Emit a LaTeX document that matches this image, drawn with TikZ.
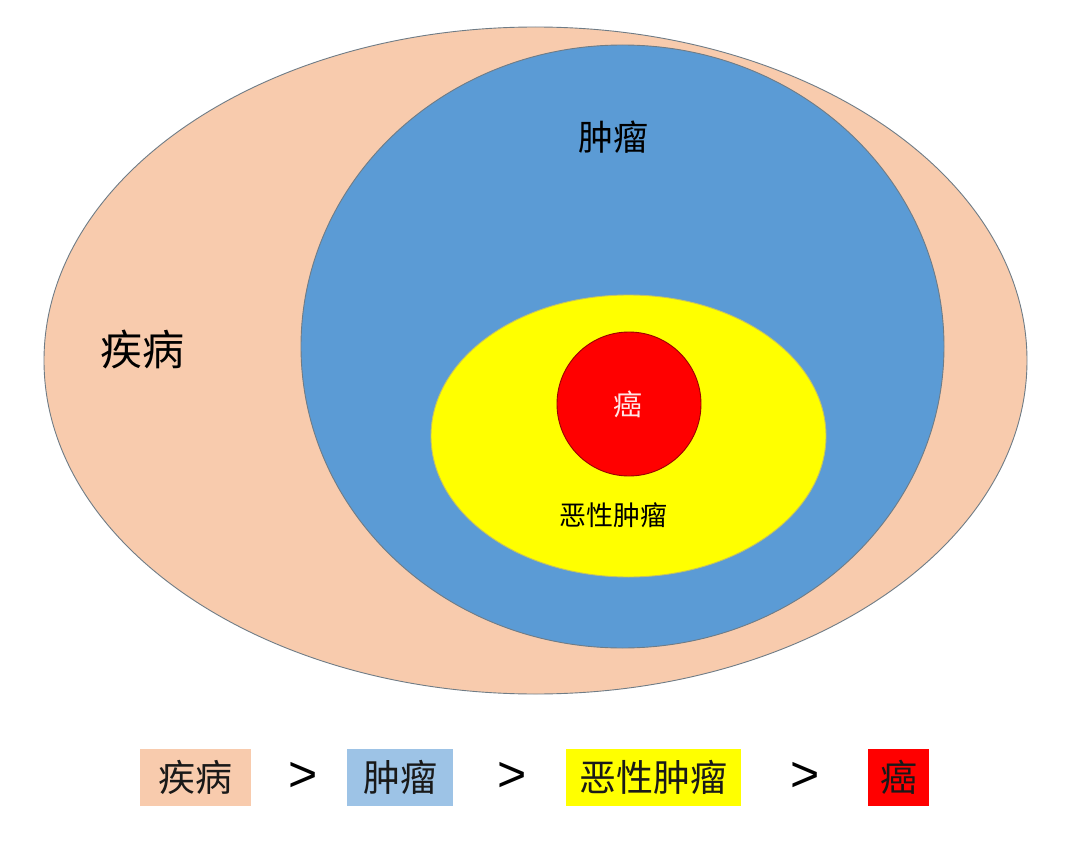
\documentclass[tikz,border=0pt]{standalone}
\usepackage{fontspec}
\setmainfont{Liberation Sans}
\newfontfamily\cjk{Noto Sans CJK SC}
\definecolor{peach}{HTML}{F8CBAD}
\definecolor{tblue}{HTML}{5B9BD5}
\definecolor{lblue}{HTML}{9DC3E6}
\definecolor{ylw}{HTML}{FFFF00}
\definecolor{rd}{HTML}{FF0000}
\definecolor{edge}{HTML}{6F7C86}
\begin{document}
\begin{tikzpicture}[x=1pt,y=-1pt,
  region/.style={draw=edge,line width=0.9pt},
  lbl/.style={font=\cjk,inner sep=0pt,text=black},
  legbox/.style={minimum height=57pt,inner sep=0pt,font=\cjk\fontsize{37}{40}\selectfont,text=black!90},
  gt/.style={font=\fontsize{50}{52}\selectfont,inner sep=0pt}]
\useasboundingbox[fill=white] (0,0) rectangle (1080,851);
% regions
\path[region,fill=peach] (535.5,360.5) ellipse [x radius=491.5,y radius=333.5];
\path[region,fill=tblue] (622.5,346.5) ellipse [x radius=321.5,y radius=301.5];
\path[region,fill=ylw,draw=ylw!60!black!60] (628.5,436) ellipse [x radius=197.5,y radius=141];
\path[region,fill=rd,draw=rd!60!black] (629,404) circle [radius=72];
% labels
\node[lbl,font=\cjk\fontsize{42}{44}\selectfont] (jibing) at (142,349) {疾病};
\node[lbl,font=\cjk\fontsize{35}{38}\selectfont] (zhongliu) at (613,137) {肿瘤};
\node[lbl,font=\cjk\fontsize{27}{30}\selectfont] (exing) at (613,515) {恶性肿瘤};
\node[lbl,font=\cjk\fontsize{29}{30}\selectfont,text=white!90!red] (ai) at (628,404) {癌};
% legend
\node[legbox,fill=peach,minimum width=111pt] (l1) at (195.5,777) {疾病};
\node[gt] (g1) at (303,777) {>};
\node[legbox,fill=lblue,minimum width=106pt] (l2) at (400,777) {肿瘤};
\node[gt] (g2) at (512,777) {>};
\node[legbox,fill=ylw,minimum width=175pt] (l3) at (653.5,777) {恶性肿瘤};
\node[gt] (g3) at (805,777) {>};
\node[legbox,fill=rd,minimum width=61pt] (l4) at (898.5,777) {癌};
\end{tikzpicture}
\end{document}
